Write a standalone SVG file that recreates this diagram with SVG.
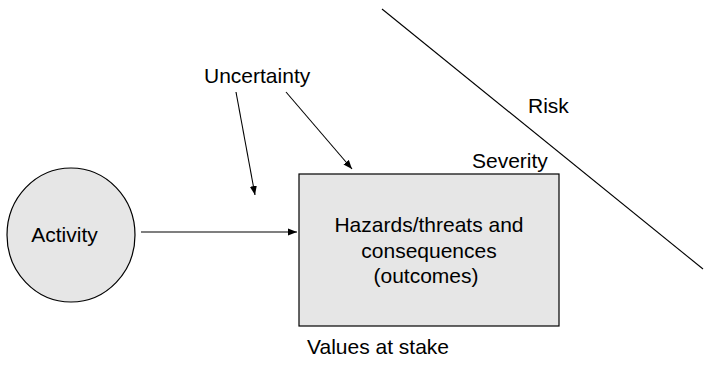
<svg xmlns="http://www.w3.org/2000/svg" width="704" height="366" viewBox="0 0 704 366">
<style>
text{font-family:"Liberation Sans",Arial,sans-serif;font-size:21px;fill:#000}
.shape{fill:#e6e6e6;stroke:#000;stroke-width:1.2}
.conn{stroke:#000;stroke-width:1.1;fill:none}
</style>
<defs>
<marker id="ah" markerWidth="10" markerHeight="8" refX="9" refY="4" orient="auto" markerUnits="userSpaceOnUse">
<path d="M0,0.5 L9,4 L0,7.5 Z" fill="#000"/>
</marker>
</defs>
<rect width="704" height="366" fill="#fff"/>
<g id="activity">
<ellipse class="shape" cx="71" cy="235" rx="64" ry="67"/>
<text x="64.5" y="242" text-anchor="middle">Activity</text>
</g>
<g id="hazards">
<rect class="shape" x="299" y="174" width="260" height="152"/>
<text x="429" y="232" text-anchor="middle">Hazards/threats and</text>
<text x="429" y="258" text-anchor="middle">consequences</text>
<text x="426" y="283" text-anchor="middle">(outcomes)</text>
</g>
<g id="labels">
<text x="204" y="83">Uncertainty</text>
<text x="528" y="113">Risk</text>
<text x="472" y="168">Severity</text>
<text x="307" y="354">Values at stake</text>
</g>
<g id="connectors">
<line class="conn" x1="141" y1="232" x2="297" y2="232" marker-end="url(#ah)"/>
<line class="conn" x1="236" y1="92" x2="255" y2="195" marker-end="url(#ah)"/>
<line class="conn" x1="286" y1="92" x2="352" y2="169" marker-end="url(#ah)"/>
<line class="conn" x1="382" y1="9" x2="703" y2="269"/>
</g>
</svg>
